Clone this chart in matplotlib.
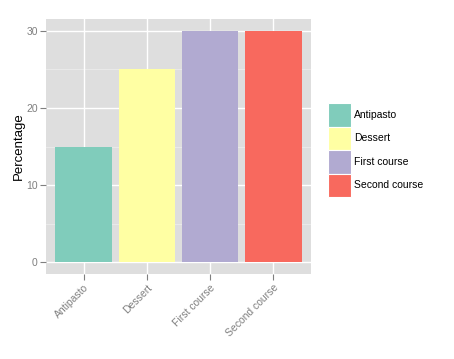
import matplotlib
matplotlib.use("Agg")
import matplotlib.pyplot as plt
from matplotlib.patches import Patch

plt.rcParams["font.family"] = ["Liberation Sans", "DejaVu Sans"]

categories = ["Antipasto", "Dessert", "First course", "Second course"]
values = [15, 25, 30, 30]
colors = ["#80CCBB", "#FFFFA3", "#B1AAD1", "#F8695E"]
y_ticks = [0, 10, 20, 30]

fig = plt.figure(figsize=(4.54, 3.59), dpi=100)
ax = fig.add_axes([0.1013, 0.2368, 0.5837, 0.7102])
ax.set_facecolor("#DEDEDE")
for s in ax.spines.values():
    s.set_visible(False)

x = list(range(1, len(categories) + 1))
ax.set_xlim(0.4, len(categories) + 0.6)
ax.set_ylim(-1.5, 31.5)

# grid
for v in [5, 15, 25]:
    ax.axhline(v, color="#EFEFEF", lw=0.5, zorder=0)
for v in y_ticks:
    ax.axhline(v, color="white", lw=1.0, zorder=0)
for xi in x:
    ax.axvline(xi, color="white", lw=1.0, zorder=0)

ax.bar(x, values, width=0.9, color=colors, zorder=2)

ax.set_xticks(x)
ax.set_xticklabels(categories, rotation=45, ha="right", va="top",
                   rotation_mode="anchor", color="#7F7F7F", fontsize=7.5)
ax.set_yticks(y_ticks)
ax.set_yticklabels([str(v) for v in y_ticks], color="#7F7F7F", fontsize=7.5)
ax.tick_params(axis="both", color="#7F7F7F", length=4, width=0.8, pad=2)
ax.set_ylabel("Percentage", fontsize=9.5, color="black", labelpad=1)

handles = [Patch(facecolor=c, edgecolor="white", lw=0.8) for c in colors]
leg = fig.legend(handles, categories, loc="upper left",
                 bbox_to_anchor=(0.722, 0.713), frameon=False,
                 fontsize=7.5, handlelength=2.25, handleheight=3.1,
                 handletextpad=0.3, labelspacing=0.0, borderaxespad=0,
                 borderpad=0)

fig.savefig("out.png", dpi=100)
